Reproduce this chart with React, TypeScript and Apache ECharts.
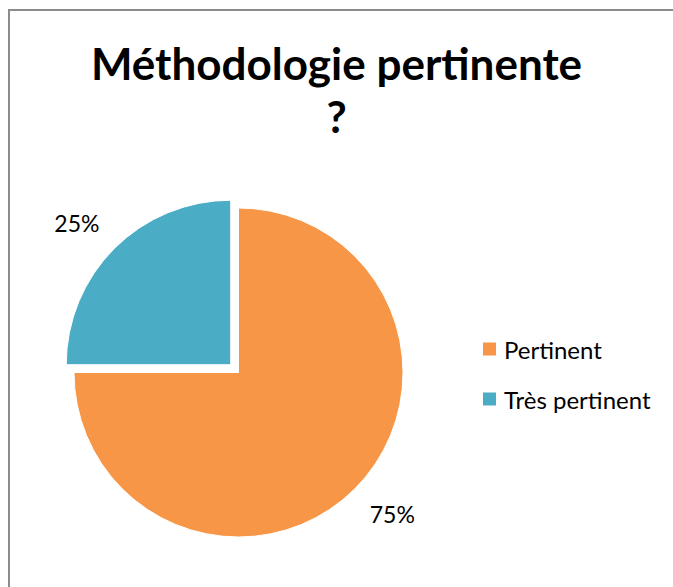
import React, { useEffect, useRef } from "react";
import * as echarts from "echarts";

const titleText = "Méthodologie pertinente\n?";
const categories = ["Pertinent", "Très pertinent"];
const values = [75, 25];
const colors = ["#F79646", "#4BACC6"];
const explodedIndex = 1;

export default function App() {
  const ref = useRef<HTMLDivElement>(null);
  useEffect(() => {
    if (!ref.current) return;
    const chart = echarts.init(ref.current, null, { renderer: "svg" });
    const data = categories.map((name, i) => ({
      name,
      value: values[i],
      selected: i === explodedIndex,
      itemStyle: { color: colors[i] },
    }));
    chart.setOption({
      animation: false,
      backgroundColor: "#ffffff",
      graphic: [
        {
          type: "rect",
          shape: { x: 9, y: 10, width: 700, height: 620 },
          style: { fill: "none", stroke: "#8c8c8c", lineWidth: 2 },
          silent: true,
          z: -1,
        },
      ],
      title: {
        text: titleText,
        left: "center",
        top: 31,
        textStyle: {
          fontFamily: "Lato",
          fontWeight: "bold",
          fontSize: 44,
          lineHeight: 53,
          color: "#000000",
        },
      },
      legend: {
        orient: "vertical",
        left: 481,
        top: 337,
        padding: 0,
        itemWidth: 15,
        itemHeight: 15,
        itemGap: 26,
        icon: "rect",
        selectedMode: false,
        data: categories,
        textStyle: {
          fontFamily: "Lato",
          fontSize: 24,
          lineHeight: 22,
          color: "#000000",
          padding: [0, 0, 0, 2],
        },
      },
      series: [
        {
          type: "pie",
          center: [238.5, 372.5],
          radius: 164.5,
          startAngle: 90,
          clockwise: true,
          selectedMode: "single",
          selectedOffset: 11,
          avoidLabelOverlap: false,
          itemStyle: { borderColor: "#ffffff", borderWidth: 1 },
          select: { itemStyle: { borderColor: "#ffffff", borderWidth: 1 } },
          emphasis: { disabled: true },
          label: {
            show: true,
            position: "outside",
            formatter: "{d}%",
            fontFamily: "Lato",
            fontSize: 23,
            color: "#000000",
          },
          labelLine: { show: false, length: 46, length2: 0 },
          labelLayout: (p: any) => ({
            align: "center",
            dy: p.dataIndex === explodedIndex ? 7 : -7,
          }),
          data,
        },
      ],
    });
    return () => chart.dispose();
  }, []);
  return (
    <div
      ref={ref}
      style={{ position: "fixed", left: 0, top: 0, width: 673, height: 587 }}
    />
  );
}
